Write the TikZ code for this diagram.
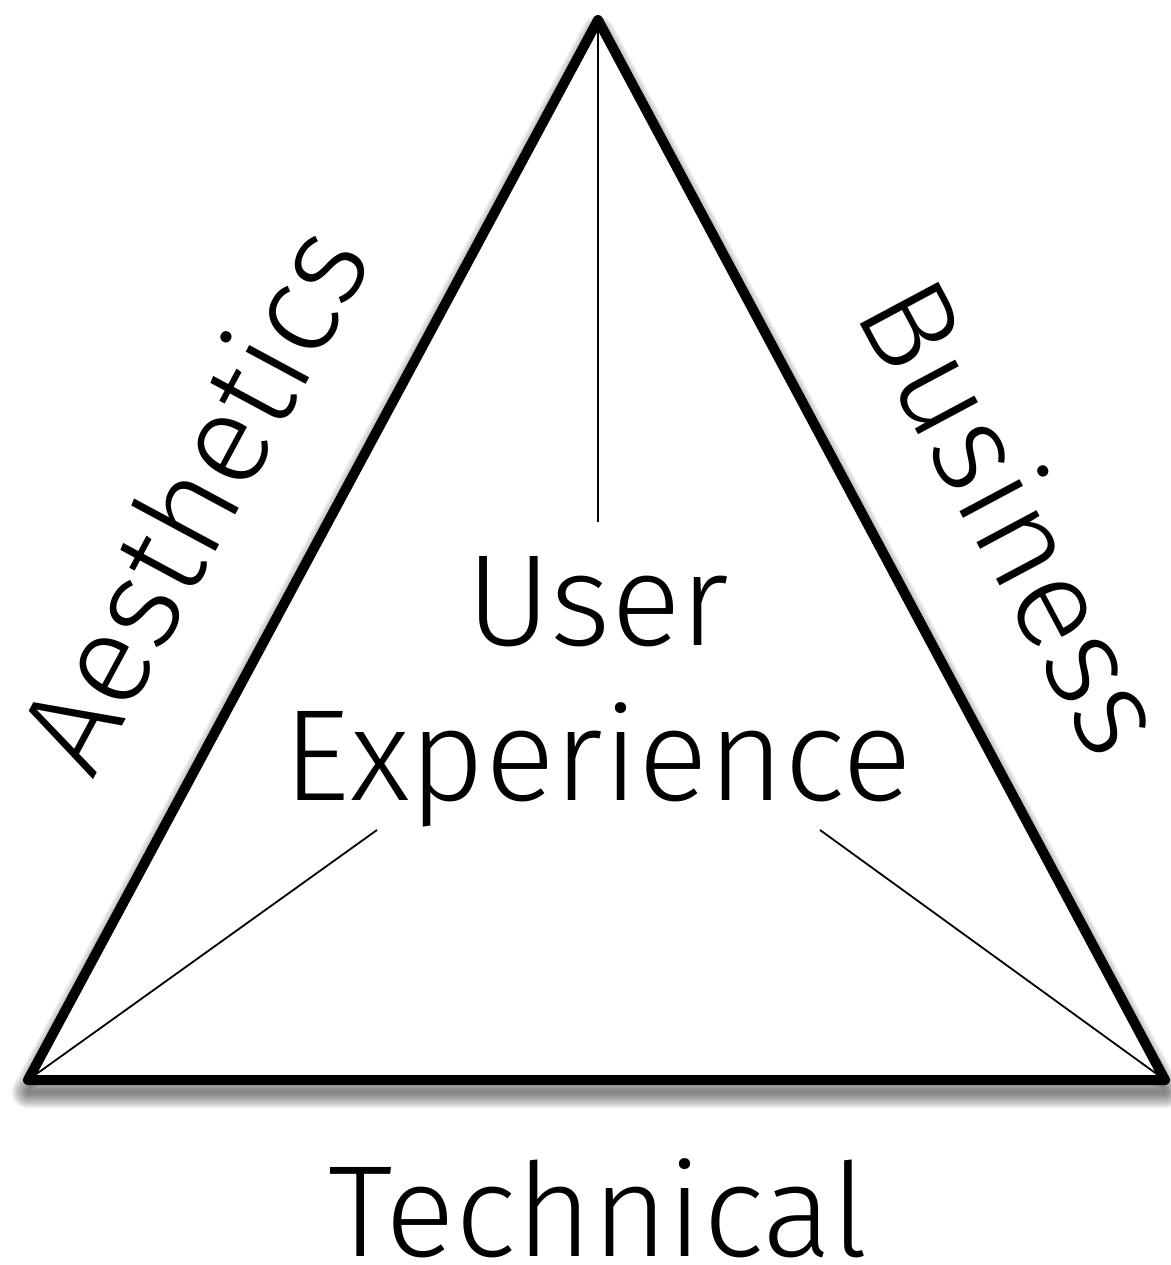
\documentclass[tikz,border=0pt]{standalone}
\usepackage{fontspec}
\setmainfont{Fira Sans}[UprightFont=* Light]
\tikzset{rim/.style = {line width=10pt, line join=round, line cap=round},
         spoke/.style = {line width=1.8pt},
         word/.style = {inner sep=0pt, anchor=base, font=\fontsize{130}{156}\selectfont},
         haze/.style = {black, opacity=0.08, line join=round}}
\begin{document}
\begin{tikzpicture}[x=1pt, y=-1pt]
      \useasboundingbox (0, 0) rectangle (1170, 1265);

      \coordinate (apex) at (598, 20);
      \coordinate (left) at (28, 1080);
      \coordinate (right) at (1165, 1080);
      \coordinate (apexend) at (598, 522);
      \coordinate (leftend) at (377, 830);
      \coordinate (rightend) at (820, 830);

      \foreach \w in {4, 8, ..., 32}
        \draw [haze, line width=\w pt] (598, 32) -- (1165, 1092) -- (28, 1092) -- cycle;
      \fill [white] (apex) -- (right) -- (left) -- cycle;

      \draw [spoke] (apex) -- (apexend);
      \draw [spoke] (left) -- (leftend);
      \draw [spoke] (right) -- (rightend);
      \draw [rim] (apex) -- (right) -- (left) -- cycle;

      \node (user) [word] at (598, 645) {User};
      \node (experience) [word] at (598, 800) {Experience};
      \node (technical) [word] at (598, 1256) {Technical};
      \node (aesthetics) [word, rotate=61.7] at (233, 520) {Aesthetics};
      \node (business) [word, rotate=-61.9] at (974, 538) {Business};
    \end{tikzpicture}
\end{document}
